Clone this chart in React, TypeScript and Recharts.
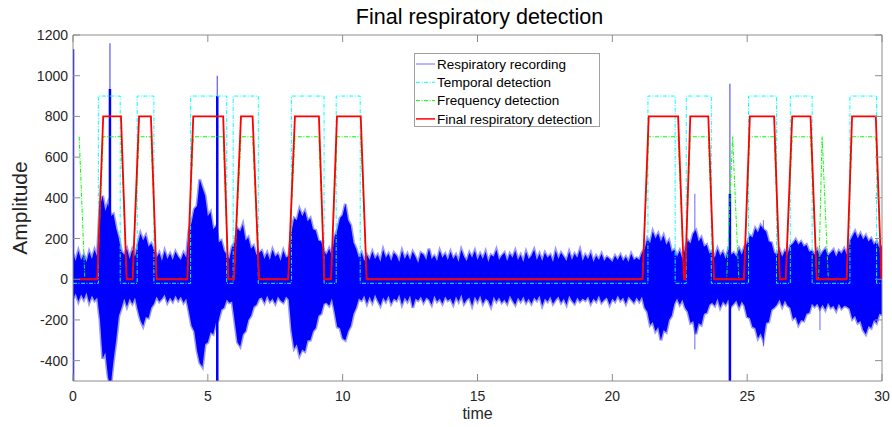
import React from "react";
import {
  ComposedChart,
  Area,
  Line,
  XAxis,
  YAxis,
  ReferenceLine,
  Legend,
} from "recharts";

// plot box in page pixels (MATLAB-style axes)
const PLOT_LEFT = 73;
const PLOT_RIGHT = 882;
const PLOT_TOP = 35;
const PLOT_BOTTOM = 381;
const AXIS_GRAY = "#8c8c8c";
const TEXT_GRAY = "#262626";
const FONT = "'Liberation Sans', Arial, Helvetica, sans-serif";

const X_TICKS = [0, 5, 10, 15, 20, 25, 30];
const Y_TICKS = [-400, -200, 0, 200, 400, 600, 800, 1000, 1200];

// respiratory recording: outer envelope every 0.1 s
const SAMPLE_STEP = 0.1;
const SIGNAL_HI = [
  125, 90, 140, 95, 120, 85, 135, 100, 145, 110,
  360, 410, 335, 375, 310, 320, 250, 200, 135, 120,
  150, 100, 145, 110, 170, 225, 190, 215, 160, 175,
  145, 105, 130, 90, 140, 100, 125, 95, 135, 110,
  95, 130, 105, 240, 280, 345, 360, 490, 450, 410,
  310, 330, 245, 260, 180, 190, 140, 120, 100, 160,
  180, 250, 235, 270, 190, 205, 150, 165, 120, 130,
  140, 100, 130, 95, 145, 110, 125, 90, 140, 105,
  115, 230, 300, 290, 345, 310, 335, 285, 300, 245,
  240, 190, 185, 140, 120, 150, 115, 210, 240, 300,
  315, 370, 290, 265, 180, 150, 105,
  130, 90, 120,
  95, 135, 100, 120, 85, 145, 105, 125, 90, 130,
  115, 85, 140, 100, 125, 95, 135, 110, 80, 130,
  120, 95, 150, 100, 115, 90, 140, 105, 125, 95,
  135, 100, 120, 85, 145, 110, 90, 130, 105, 140,
  95, 125, 100, 135, 85, 120, 110, 145, 95, 115,
  130, 90, 125, 105, 140, 95, 120, 85, 135, 100,
  115, 145, 95, 125, 90, 130, 105, 120, 85, 140,
  100, 130, 110, 90, 135, 95, 125, 105, 145, 90,
  120, 100, 130, 85, 115, 95, 125, 90, 110, 100,
  85, 115, 95, 120, 90, 110, 85, 125, 95, 105,
  95, 130,
  150, 200, 175, 235, 200, 225, 185, 215, 170, 190, 135, 145,
  110, 140, 100, 150,
  190, 175, 225, 240, 185, 205, 160, 170, 125,
  140, 105, 150, 115, 135, 100, 145, 120, 130, 110, 150, 120,
  160, 175, 215, 205, 250, 230, 265, 245, 235, 185, 180, 130,
  120, 145, 110, 140, 125,
  165, 175, 195, 170, 185, 160, 170, 135, 140,
  120, 145, 110, 135, 150, 115, 130, 145, 110, 140, 125, 150, 120,
  185, 210, 235, 200, 225, 195, 215, 185, 200, 170, 185, 155, 165,
];
const SIGNAL_LO = [
  -95, -70, -110, -75, -100, -65, -115, -80, -105, -90,
  -200, -390, -360, -480, -520, -400, -300, -180, -140, -95,
  -135, -95, -120, -90, -150, -200, -230, -185, -190, -140,
  -120, -85, -110, -95, -75, -115, -90, -110, -80, -105,
  -85, -115, -95, -160, -230, -255, -350, -410, -430, -320,
  -310, -260, -270, -215, -200, -150, -140, -100, -115, -110,
  -210, -310, -330, -270, -255, -200, -180, -135, -125, -95,
  -90, -115, -80, -110, -95, -120, -85, -105, -115, -85,
  -100, -250, -340, -320, -375, -345, -355, -300, -300, -255,
  -240, -180, -170, -120, -115, -130, -95, -160, -235, -240,
  -290, -300, -255, -230, -170, -140, -95,
  -105, -80, -120,
  -85, -115, -75, -105, -130, -90, -110, -80, -120, -95,
  -105, -75, -125, -90, -110, -80, -140, -95, -105, -85,
  -115, -90, -100, -125, -80, -110, -95, -120, -85, -105,
  -95, -125, -85, -110, -75, -120, -100, -90, -130, -85,
  -110, -80, -120, -95, -105, -135, -85, -110, -90, -115,
  -100, -120, -80, -105, -125, -90, -110, -85, -115, -95,
  -120, -90, -105, -80, -130, -95, -110, -85, -120, -100,
  -85, -115, -95, -125, -80, -105, -120, -90, -110, -95,
  -105, -85, -120, -95, -110, -80, -115, -100, -90, -125,
  -95, -110, -80, -105, -90, -120, -85, -100, -115, -90,
  -110, -85,
  -140, -160, -225, -210, -255, -235, -300, -250, -260, -200, -180, -120,
  -95, -125, -100, -140,
  -160, -215, -205, -270, -215, -225, -170, -165, -125,
  -115, -130, -95, -140, -110, -125, -100, -135, -120, -105, -140, -110,
  -130, -185, -190, -235, -240, -290, -265, -300, -215, -210, -150, -140,
  -125, -100, -135, -105, -130,
  -140, -195, -185, -225, -200, -205, -170, -165, -120,
  -135, -120, -145, -125, -150, -115, -140, -130, -155, -120, -145, -130, -135,
  -145, -195, -180, -215, -205, -250, -270, -230, -240, -200, -215, -170, -175,
];

// large artefact spikes in the recording
const SPIKE_T = [0.0, 1.37, 5.35, 24.36];
const SPIKE_TOP = [1130, 1160, 1000, 960];
const SPIKE_SOLID_TOP = [1130, 935, 900, 420];
const SPIKE_BOTTOM = [-520, -520, -520, -520];
// smaller outliers
const MINOR_T = [23.06, 25.6, 27.7];
const MINOR_TOP = [420, 290, 150];
const MINOR_BOTTOM = [-345, -330, -250];

// temporal detection (step, -20 / 900)
const temporalDetection: [number, number][] = [
  [0, -20], [0.94, -20], [0.94, 900], [1.75, 900], [1.75, -20],
  [2.38, -20], [2.38, 900], [3.0, 900], [3.0, -20],
  [4.36, -20], [4.36, 900], [5.7, 900], [5.7, -20],
  [5.94, -20], [5.94, 900], [6.87, 900], [6.87, -20],
  [8.1, -20], [8.1, 900], [9.31, 900], [9.31, -20],
  [9.76, -20], [9.76, 900], [10.65, 900], [10.65, -20],
  [21.32, -20], [21.32, 900], [22.33, 900], [22.33, -20],
  [22.74, -20], [22.74, 900], [23.67, 900], [23.67, -20],
  [25.05, -20], [25.05, 900], [26.09, 900], [26.09, -20],
  [26.6, -20], [26.6, 900], [27.41, 900], [27.41, -20],
  [28.81, -20], [28.81, 900], [29.8, 900], [29.8, -20], [30, -20],
];

// frequency detection (0 / 700)
const frequencyDetection: [number, number][] = [
  [0.23, 700], [0.44, 0], [0.9, 0], [1.12, 700], [1.78, 700], [1.99, 0],
  [2.21, 0], [2.45, 700], [2.89, 700], [3.1, 0],
  [4.24, 0], [4.46, 700], [5.57, 700], [5.76, 0],
  [5.97, 0], [6.23, 700], [6.66, 700], [6.9, 0],
  [7.98, 0], [8.23, 700], [9.12, 700], [9.32, 0],
  [9.57, 0], [9.79, 700], [10.67, 700], [10.89, 0],
  [21.12, 0], [21.35, 700], [22.44, 700], [22.66, 0],
  [22.7, 0], [22.89, 700], [23.56, 700], [23.77, 0],
  [24.24, 0], [24.46, 700], [24.69, 0],
  [24.88, 0], [25.1, 700], [26.0, 700], [26.21, 0],
  [26.43, 0], [26.67, 700], [27.35, 700], [27.58, 0],
  [27.65, 0], [27.78, 700], [28.01, 0],
  [28.69, 0], [28.89, 700], [29.77, 700], [29.98, 0],
];

// final respiratory detection (0 / 800)
const finalDetection: [number, number][] = [
  [0.23, 0], [0.9, 0], [1.12, 800], [1.78, 800], [1.99, 0],
  [2.21, 0], [2.45, 800], [2.89, 800], [3.1, 0],
  [4.24, 0], [4.46, 800], [5.57, 800], [5.76, 0],
  [5.97, 0], [6.23, 800], [6.66, 800], [6.9, 0],
  [7.98, 0], [8.23, 800], [9.12, 800], [9.32, 0],
  [9.57, 0], [9.79, 800], [10.67, 800], [10.89, 0],
  [21.12, 0], [21.35, 800], [22.44, 800], [22.66, 0],
  [22.7, 0], [22.89, 800], [23.56, 800], [23.77, 0],
  [24.88, 0], [25.1, 800], [26.0, 800], [26.21, 0],
  [26.43, 0], [26.67, 800], [27.35, 800], [27.58, 0],
  [28.69, 0], [28.89, 800], [29.77, 800], [29.98, 0],
];

const LEGEND_ITEMS = [
  { label: "Respiratory recording", color: "#6f6fff", dash: undefined },
  { label: "Temporal detection", color: "#00ffff", dash: "4 1.5 1 1.5" },
  { label: "Frequency detection", color: "#00ff00", dash: "4 1.5 1 1.5" },
  { label: "Final respiratory detection", color: "#ff0000", dash: undefined },
];

const bandRows = SIGNAL_HI.map((hi, i) => ({
  t: Math.round(i * SAMPLE_STEP * 10) / 10,
  band: [SIGNAL_LO[i], hi],
}));

const toRows = (pts: [number, number][]) => pts.map(([t, v]) => ({ t, v }));

const segmentRows = (ts: number[], tops: number[], bottoms: number[]) =>
  ts.flatMap((t, i) => [
    { t, v: tops[i] },
    { t, v: bottoms[i] },
    { t, v: null },
  ]);

const spikeSolidRows = segmentRows(SPIKE_T, SPIKE_SOLID_TOP, SPIKE_BOTTOM);
const spikeTipRows = segmentRows(SPIKE_T, SPIKE_TOP, SPIKE_SOLID_TOP);
const minorRows = segmentRows(MINOR_T, MINOR_TOP, MINOR_BOTTOM);

const XTick = ({ x, payload }: any) => (
  <g>
    <line x1={x} x2={x} y1={PLOT_BOTTOM} y2={PLOT_BOTTOM - 7} stroke={AXIS_GRAY} />
    <line x1={x} x2={x} y1={PLOT_TOP} y2={PLOT_TOP + 7} stroke={AXIS_GRAY} />
    <text x={x} y={401} textAnchor="middle" fontSize={14} fill={TEXT_GRAY} fontFamily={FONT}>
      {payload.value}
    </text>
  </g>
);

const YTick = ({ y, payload }: any) => (
  <g>
    <line x1={PLOT_LEFT} x2={PLOT_LEFT + 7} y1={y} y2={y} stroke={AXIS_GRAY} />
    <line x1={PLOT_RIGHT - 7} x2={PLOT_RIGHT} y1={y} y2={y} stroke={AXIS_GRAY} />
    <text x={68} y={y + 5} textAnchor="end" fontSize={14} fill={TEXT_GRAY} fontFamily={FONT}>
      {payload.value}
    </text>
  </g>
);

const LegendBox = () => (
  <svg width={186} height={74} style={{ display: "block" }}>
    <rect x={0.5} y={0.5} width={185} height={73} fill="#fff" stroke="#a0a0a0" />
    {LEGEND_ITEMS.map((item, i) => {
      const cy = 11 + i * 18.3;
      return (
        <g key={item.label}>
          <line
            x1={2}
            x2={21}
            y1={cy}
            y2={cy}
            stroke={item.color}
            strokeWidth={i === 3 ? 1.5 : 1}
            strokeDasharray={item.dash}
          />
          <text x={23} y={cy + 4.8} fontSize={13.5} fontFamily={FONT} fill="#000">
            {item.label}
          </text>
        </g>
      );
    })}
  </svg>
);

export default function App() {
  return (
    <div style={{ position: "absolute", left: 0, top: 0, width: 892, height: 427, background: "#fff" }}>
      <ComposedChart
        width={892}
        height={427}
        data={bandRows}
        margin={{ top: PLOT_TOP, right: 892 - PLOT_RIGHT, bottom: 0, left: 0 }}
      >
        <XAxis
          dataKey="t"
          type="number"
          domain={[0, 30]}
          ticks={X_TICKS}
          allowDataOverflow
          height={427 - PLOT_BOTTOM}
          tickLine={false}
          tick={<XTick />}
          stroke={AXIS_GRAY}
        />
        <YAxis
          type="number"
          domain={[-500, 1200]}
          ticks={Y_TICKS}
          allowDataOverflow
          width={PLOT_LEFT}
          tickLine={false}
          tick={<YTick />}
          stroke={AXIS_GRAY}
        />
        <ReferenceLine y={1200} stroke={AXIS_GRAY} />
        <ReferenceLine x={30} stroke={AXIS_GRAY} />
        <Area
          type="linear"
          dataKey="band"
          fill="#0000ff"
          fillOpacity={1}
          stroke="#0000ff"
          strokeOpacity={0.4}
          strokeWidth={3}
          isAnimationActive={false}
          activeDot={false}
        />
        <Line
          data={minorRows}
          dataKey="v"
          stroke="#0000ff"
          strokeOpacity={0.6}
          strokeWidth={1}
          dot={false}
          activeDot={false}
          isAnimationActive={false}
        />
        <Line
          data={spikeTipRows}
          dataKey="v"
          stroke="#0000ff"
          strokeOpacity={0.65}
          strokeWidth={1.2}
          dot={false}
          activeDot={false}
          isAnimationActive={false}
        />
        <Line
          data={spikeSolidRows}
          dataKey="v"
          stroke="#0000ff"
          strokeWidth={2.5}
          dot={false}
          activeDot={false}
          isAnimationActive={false}
        />
        <Line
          data={toRows(temporalDetection)}
          dataKey="v"
          type="linear"
          stroke="#00ffff"
          strokeWidth={1}
          strokeDasharray="4 1.5 1 1.5"
          dot={false}
          activeDot={false}
          isAnimationActive={false}
        />
        <Line
          data={toRows(frequencyDetection)}
          dataKey="v"
          type="linear"
          stroke="#00ff00"
          strokeWidth={1}
          strokeDasharray="4 1.5 1 1.5"
          dot={false}
          activeDot={false}
          isAnimationActive={false}
        />
        <Line
          data={toRows(finalDetection)}
          dataKey="v"
          type="linear"
          stroke="#ff0000"
          strokeWidth={1.8}
          dot={false}
          activeDot={false}
          isAnimationActive={false}
        />
        <Legend
          layout="horizontal"
          verticalAlign="middle"
          align="center"
          wrapperStyle={{ left: 414, top: 53, width: 186, height: 74 }}
          content={<LegendBox />}
        />
      </ComposedChart>
      <svg
        width={892}
        height={427}
        style={{ position: "absolute", left: 0, top: 0, pointerEvents: "none" }}
      >
        <text x={479.5} y={24} textAnchor="middle" fontSize={21.5} fontFamily={FONT} fill="#000">
          Final respiratory detection
        </text>
        <text
          x={27}
          y={208}
          transform="rotate(-90 27 208)"
          textAnchor="middle"
          fontSize={21}
          fontFamily={FONT}
          fill={TEXT_GRAY}
        >
          Amplitude
        </text>
        <text x={477.5} y={419} textAnchor="middle" fontSize={16} fontFamily={FONT} fill={TEXT_GRAY}>
          time
        </text>
      </svg>
    </div>
  );
}
